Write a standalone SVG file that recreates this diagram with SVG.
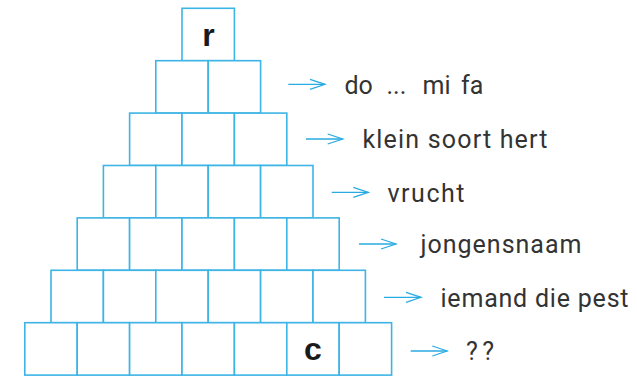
<svg xmlns="http://www.w3.org/2000/svg" width="637" height="378" viewBox="0 0 637 378">
<style>
.b{fill:#fff;stroke:#3cb4e5;stroke-width:1.6}
.a{stroke:#29abe2;stroke-width:1.3;fill:none}
.t{font-family:Roboto,"DejaVu Sans",sans-serif;font-size:25px;fill:#333}
.l{font-family:"Liberation Sans",Arial,sans-serif;font-weight:bold;font-size:32px;fill:#1a1a1a;text-anchor:middle}
</style>
<defs>
<marker id="ah" markerWidth="18" markerHeight="12" refX="16" refY="6" orient="auto" markerUnits="userSpaceOnUse">
<path d="M1,1 L16,6 L1,11" fill="none" stroke="#29abe2" stroke-width="1.3"/>
</marker>
</defs>
<g id="row1">
<g id="n1-1"><rect class="b" x="182" y="8.3" width="52.4" height="52.4"/><text class="l" x="208.5" y="45.5">r</text></g>
</g>
<g id="row2">
<g id="n2-1"><rect class="b" x="155.8" y="60.7" width="52.4" height="52.4"/></g>
<g id="n2-2"><rect class="b" x="208.2" y="60.7" width="52.4" height="52.4"/></g>
</g>
<g id="row3">
<g id="n3-1"><rect class="b" x="129.6" y="113.1" width="52.4" height="52.4"/></g>
<g id="n3-2"><rect class="b" x="182" y="113.1" width="52.4" height="52.4"/></g>
<g id="n3-3"><rect class="b" x="234.4" y="113.1" width="52.4" height="52.4"/></g>
</g>
<g id="row4">
<g id="n4-1"><rect class="b" x="103.4" y="165.5" width="52.4" height="52.4"/></g>
<g id="n4-2"><rect class="b" x="155.8" y="165.5" width="52.4" height="52.4"/></g>
<g id="n4-3"><rect class="b" x="208.2" y="165.5" width="52.4" height="52.4"/></g>
<g id="n4-4"><rect class="b" x="260.6" y="165.5" width="52.4" height="52.4"/></g>
</g>
<g id="row5">
<g id="n5-1"><rect class="b" x="77.2" y="217.9" width="52.4" height="52.4"/></g>
<g id="n5-2"><rect class="b" x="129.6" y="217.9" width="52.4" height="52.4"/></g>
<g id="n5-3"><rect class="b" x="182" y="217.9" width="52.4" height="52.4"/></g>
<g id="n5-4"><rect class="b" x="234.4" y="217.9" width="52.4" height="52.4"/></g>
<g id="n5-5"><rect class="b" x="286.8" y="217.9" width="52.4" height="52.4"/></g>
</g>
<g id="row6">
<g id="n6-1"><rect class="b" x="51" y="270.3" width="52.4" height="52.4"/></g>
<g id="n6-2"><rect class="b" x="103.4" y="270.3" width="52.4" height="52.4"/></g>
<g id="n6-3"><rect class="b" x="155.8" y="270.3" width="52.4" height="52.4"/></g>
<g id="n6-4"><rect class="b" x="208.2" y="270.3" width="52.4" height="52.4"/></g>
<g id="n6-5"><rect class="b" x="260.6" y="270.3" width="52.4" height="52.4"/></g>
<g id="n6-6"><rect class="b" x="313" y="270.3" width="52.4" height="52.4"/></g>
</g>
<g id="row7">
<g id="n7-1"><rect class="b" x="24.8" y="322.7" width="52.4" height="52.4"/></g>
<g id="n7-2"><rect class="b" x="77.2" y="322.7" width="52.4" height="52.4"/></g>
<g id="n7-3"><rect class="b" x="129.6" y="322.7" width="52.4" height="52.4"/></g>
<g id="n7-4"><rect class="b" x="182" y="322.7" width="52.4" height="52.4"/></g>
<g id="n7-5"><rect class="b" x="234.4" y="322.7" width="52.4" height="52.4"/></g>
<g id="n7-6"><rect class="b" x="286.8" y="322.7" width="52.4" height="52.4"/><text class="l" x="313" y="359.5">c</text></g>
<g id="n7-7"><rect class="b" x="339.2" y="322.7" width="52.4" height="52.4"/></g>
</g>
<g id="connectors">
<line class="a" x1="288.3" y1="84.3" x2="325" y2="84.3" marker-end="url(#ah)"/>
<line class="a" x1="306" y1="139" x2="342.7" y2="139" marker-end="url(#ah)"/>
<line class="a" x1="331.7" y1="192.3" x2="368.3" y2="192.3" marker-end="url(#ah)"/>
<line class="a" x1="359" y1="244" x2="396" y2="244" marker-end="url(#ah)"/>
<line class="a" x1="384" y1="297.3" x2="421" y2="297.3" marker-end="url(#ah)"/>
<line class="a" x1="410.7" y1="351" x2="447.3" y2="351" marker-end="url(#ah)"/>
</g>
<g id="labels">
<text class="t" y="94"><tspan x="344.5">do</tspan><tspan x="386.5">...</tspan><tspan x="422.5">mi</tspan><tspan x="461">fa</tspan></text>
<text class="t" x="362.5" y="148" textLength="185" lengthAdjust="spacing">klein soort hert</text>
<text class="t" x="387.5" y="201.5" textLength="77" lengthAdjust="spacing">vrucht</text>
<text class="t" x="420.5" y="252.5" textLength="161" lengthAdjust="spacing">jongensnaam</text>
<text class="t" x="440.5" y="306.5" textLength="188" lengthAdjust="spacing">iemand die pest</text>
<text class="t" x="466" y="359.5" textLength="28" lengthAdjust="spacing">??</text>
</g>
</svg>
